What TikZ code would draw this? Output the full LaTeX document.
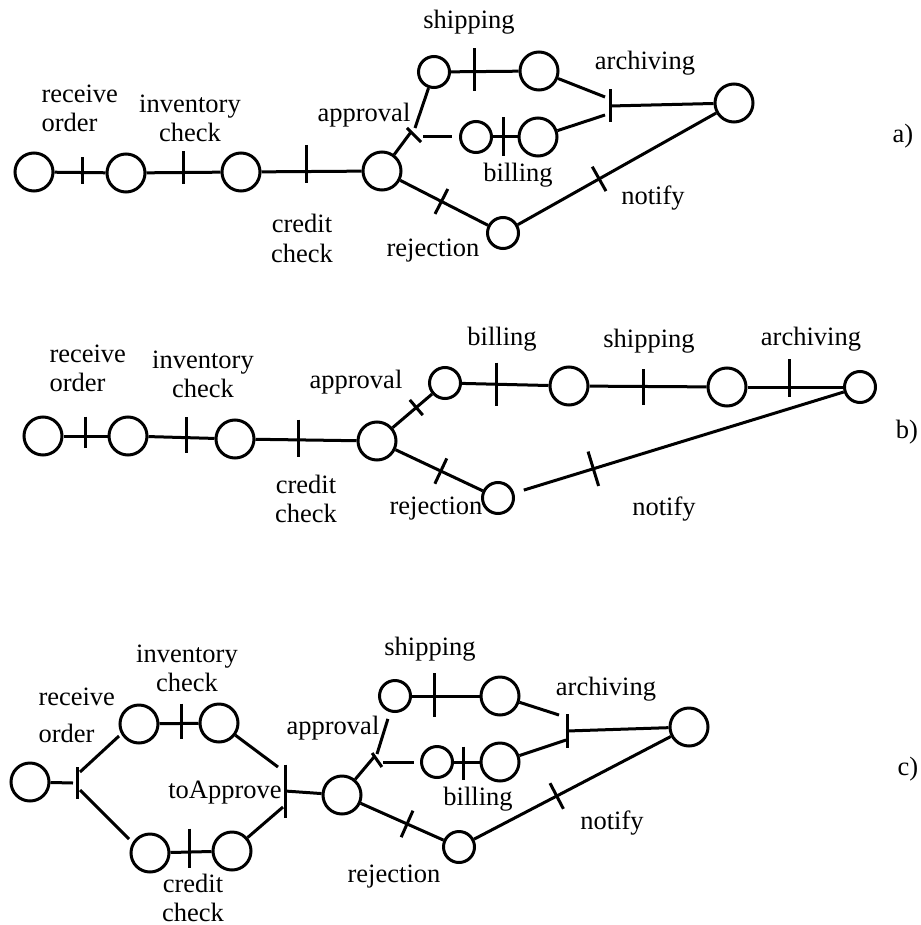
\documentclass[tikz,border=0pt]{standalone}
\usepackage{fontspec}
\setmainfont{Liberation Serif}
\newcommand{\twoc}[2]{\begin{tabular}[t]{@{}c@{}}#1\\#2\end{tabular}}
\newcommand{\twol}[3][0pt]{\begin{tabular}[t]{@{}l@{}}#2\\[#1]#3\end{tabular}}
\begin{document}
\begin{tikzpicture}[x=1pt,y=-1pt, line width=3pt,
  place/.style={circle, draw, inner sep=0pt, minimum size=38pt},
  splace/.style={circle, draw, inner sep=0pt, minimum size=31pt},
  tr/.style={rectangle, draw=none, inner sep=0pt, outer sep=0pt, minimum width=0pt, minimum height=#1},
  tr/.default=28pt,
  lbl/.style={inner sep=0pt, anchor=base, font=\fontsize{26.5}{29}\selectfont},
  lbll/.style={lbl, anchor=base west}]
\useasboundingbox (0,0) rectangle (920,925);

% ================= a) =================
\node[place] (a1) at (34,172) {};
\node[place] (a2) at (126,173) {};
\node[place] (a3) at (241,172) {};
\node[place] (a4) at (382,171) {};
\node[splace] (a5) at (434,72) {};
\node[splace] (a6) at (476,137) {};
\node[place] (a7) at (538,137) {};
\node[place] (a8) at (539,71) {};
\node[place] (a9) at (734,103) {};
\node[splace] (a10) at (503,233) {};
\node[tr=27pt] (at1) at (82,171) {};
\node[tr=33pt] (at2) at (183,168) {};
\node[tr=38pt] (at3) at (306,164) {};
\node[tr=20pt, rotate=45] (at4) at (414,135) {};
\node[tr=43pt] (at5) at (474,70) {};
\node[tr=39pt] (at6) at (503,137) {};
\node[tr=33pt] (at7) at (610,106) {};

\draw (a1) -- (a2);
\draw (a2) -- (a3);
\draw (a3) -- (a4);
\draw (a4) -- ([shift={(-3,-3)}]at4.center);
\draw ([shift={(1,-7)}]at4.center) -- (a5);
\draw ([shift={(9,2)}]at4.center) -- ([xshift=-7pt]a6.west);
\draw (a5) -- (a8);
\draw (a6) -- (a7);
\draw (a8) -- ([shift={(-5,-9)}]at7.center);
\draw (a7) -- ([shift={(-5,9)}]at7.center);
\draw (at7.center) -- (a9);
\draw (a4) -- node[tr=28pt, sloped, pos=0.47] (at8) {} (a10);
\draw (a10) -- node[tr=28pt, sloped, pos=0.41] (at9) {} (a9);
\foreach \t in {at1,at2,at3,at4,at5,at6,at7,at8,at9}
  \draw (\t.north) -- (\t.south);

\node[lbll] (la1) at (40,103) {\twol{receive}{order}};
\node[lbl] (la2) at (190,113) {\twoc{inventory}{check}};
\node[lbl] (la3) at (302,233) {\twoc{credit}{check}};
\node[lbl] (la4) at (364,122) {approval};
\node[lbl] (la5) at (433,256) {rejection};
\node[lbl] (la6) at (469,29) {shipping};
\node[lbl] (la7) at (645,70) {archiving};
\node[lbl] (la8) at (518,182) {billing};
\node[lbl] (la9) at (653,205) {notify};
\node[lbl] (la10) at (903,143) {a)};

% ================= b) =================
\node[place] (b1) at (43,436) {};
\node[place] (b2) at (128,436) {};
\node[place] (b3) at (235,439) {};
\node[place] (b4) at (377,441) {};
\node[splace] (b5) at (445,383) {};
\node[place] (b6) at (569,386) {};
\node[place] (b7) at (727,387) {};
\node[splace] (b8) at (860,387) {};
\node[splace] (b9) at (498,498) {};
\node[tr=31pt] (bt1) at (85,432) {};
\node[tr=36pt] (bt2) at (186,435) {};
\node[tr=37pt] (bt3) at (298,438) {};
\node[tr=43pt] (bt5) at (496,384) {};
\node[tr=36pt] (bt6) at (643,387) {};
\node[tr=38pt] (bt7) at (789,378) {};

\draw (b1) -- (b2);
\draw (b2) -- (b3);
\draw (b3) -- (b4);
\draw (b4) -- node[tr=20pt, sloped, pos=0.6] (bt4) {} (b5);
\draw (b5) -- (b6);
\draw (b6) -- (b7);
\draw (b7) -- (b8);
\draw (b4) -- node[tr=28pt, sloped, pos=0.52] (bt8) {} (b9);
\draw[shorten <=10pt] (b9) -- node[tr=36pt, sloped, pos=0.24] (bt9) {} (b8);
\foreach \t in {bt1,bt2,bt3,bt4,bt5,bt6,bt7,bt8,bt9}
  \draw (\t.north) -- (\t.south);

\node[lbll] (lb1) at (48,362) {\twol{receive}{order}};
\node[lbl] (lb2) at (203,368) {\twoc{inventory}{check}};
\node[lbl] (lb3) at (306,493) {\twoc{credit}{check}};
\node[lbl] (lb4) at (356,388) {approval};
\node[lbl] (lb5) at (436,514) {rejection};
\node[lbl] (lb6) at (502,345) {billing};
\node[lbl] (lb7) at (649,347) {shipping};
\node[lbl] (lb8) at (811,345) {archiving};
\node[lbl] (lb9) at (664,515) {notify};
\node[lbl] (lb10) at (907,438) {b)};

% ================= c) =================
\node[place] (c1) at (30,782) {};
\node[place] (c2) at (139,724) {};
\node[place] (c3) at (219,723) {};
\node[place] (c4) at (150,853) {};
\node[place] (c5) at (232,851) {};
\node[place] (c6) at (342,795) {};
\node[splace] (c7) at (395,696) {};
\node[place] (c8) at (500,696) {};
\node[splace] (c9) at (437,762) {};
\node[place] (c10) at (500,762) {};
\node[place] (c11) at (689,727) {};
\node[splace] (c12) at (459,847) {};
\node[tr=32pt] (ct1) at (77,783) {};
\node[tr=35pt] (ct2) at (181,721) {};
\node[tr=39pt] (ct3) at (189,848) {};
\node[tr=53pt] (ct4) at (285,791) {};
\node[tr=17pt, rotate=35] (ct5) at (377,760) {};
\node[tr=44pt] (ct6) at (434,695) {};
\node[tr=33pt] (ct7) at (463,763) {};
\node[tr=34pt] (ct8) at (567,731) {};

\draw (c1) -- ([xshift=-4pt]ct1.center);
\draw ([shift={(3,-11)}]ct1.center) -- ([shift={(-20,12)}]c2.center);
\draw ([shift={(3,7)}]ct1.center) -- ([shift={(-21,-14)}]c4.center);
\draw (c2) -- (c3);
\draw (c4) -- (c5);
\draw (c3) -- ([shift={(-7,-24)}]ct4.center);
\draw (c5) -- ([shift={(-2,16)}]ct4.center);
\draw (ct4.center) -- (c6);
\draw (c6) -- ([shift={(-3,-3)}]ct5.center);
\draw[shorten >=7pt] ([shift={(0,-6)}]ct5.center) -- (c7);
\draw[shorten >=6pt] ([shift={(6,2)}]ct5.center) -- (c9);
\draw (c7) -- (c8);
\draw (c9) -- (c10);
\draw (c8) -- ([shift={(-8,-16)}]ct8.center);
\draw (c10) -- ([shift={(-1,9)}]ct8.center);
\draw (ct8.center) -- (c11);
\draw (c6) -- node[tr=29pt, sloped, pos=0.56] (ct9) {} (c12);
\draw (c12) -- node[tr=29pt, sloped, pos=0.42] (ct10) {} (c11);
\foreach \t in {ct1,ct2,ct3,ct4,ct5,ct6,ct7,ct8,ct9,ct10}
  \draw (\t.north) -- (\t.south);

\node[lbll] (lc1) at (37,705) {\twol[8pt]{receive}{order}};
\node[lbl] (lc2) at (187,662) {\twoc{inventory}{check}};
\node[lbl] (lc3) at (193,892) {\twoc{credit}{check}};
\node[lbl] (lc4) at (333,734) {approval};
\node[lbl] (lc5) at (225,798) {toApprove};
\node[lbl] (lc6) at (430,655) {shipping};
\node[lbl] (lc7) at (606,695) {archiving};
\node[lbl] (lc8) at (478,805) {billing};
\node[lbl] (lc9) at (394,882) {rejection};
\node[lbl] (lc10) at (612,829) {notify};
\node[lbl] (lc11) at (908,775) {c)};
\end{tikzpicture}
\end{document}
